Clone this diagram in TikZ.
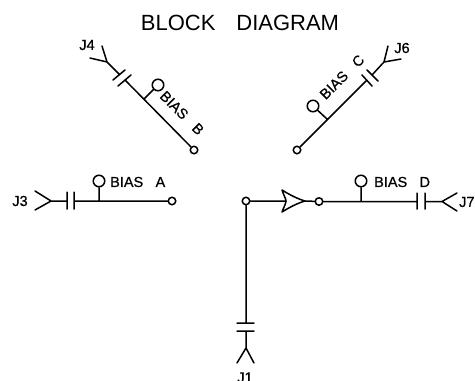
\documentclass[tikz,border=0pt]{standalone}
\usepackage{fontspec}
\setmainfont{Liberation Sans}
\newfontfamily\labfont[FakeBold=0.6]{Liberation Sans}
\tikzset{
  wire/.style={line width=1.5pt,line cap=round,line join=round,black},
  term/.style={circle,draw,line width=1.5pt,inner sep=0pt,minimum size=7.5pt,fill=white},
  bias/.style={circle,draw,line width=1.5pt,inner sep=0pt,minimum size=11.5pt,fill=white},
  lab/.style={inner sep=0pt,font=\labfont\fontsize{14.5}{16}\selectfont},
  jlab/.style={inner sep=0pt,font=\labfont\fontsize{14.5}{16}\selectfont},
  title/.style={inner sep=0pt,font=\fontsize{22}{24}\selectfont}
}
\begin{document}
\begin{tikzpicture}[x=1pt,y=-1pt]
\useasboundingbox (0,0) rectangle (475,381);
\fill[white] (0,0) rectangle (475,381);
\node[title] (ttl) at (240,23) {BLOCK\hspace{0.95em}DIAGRAM};
% A
\coordinate (a0) at (51,201); \coordinate (a1) at (35,191); \coordinate (a2) at (35,210);
\coordinate (a3) at (67,201); \coordinate (a4) at (74,201); \coordinate (a5) at (99,201);
\coordinate (ap1) at (67,192); \coordinate (ap2) at (67,209); \coordinate (ap3) at (74,192); \coordinate (ap4) at (74,209);
\node[term] (ta) at (172,201) {};
\node[bias] (ba) at (99,181) {};
\node[lab,anchor=west] (la) at (110,182) {BIAS\hspace{0.85em}A};
\node[jlab] (j3) at (20,201) {J3};
\draw[wire] (a1)--(a0)--(a2) (a0)--(a3) (ap1)--(ap2) (ap3)--(ap4) (a4)--(ta) (a5)--(ba);
% B
\coordinate (b0) at (107,62); \coordinate (b1) at (102,46); \coordinate (b2) at (90,58);
\coordinate (b3) at (119,74); \coordinate (b4) at (125,80); \coordinate (b5) at (144,99);
\coordinate (bp1) at (113,80); \coordinate (bp2) at (125,70); \coordinate (bp3) at (118,86); \coordinate (bp4) at (131,75);
\node[term] (tb) at (194,150) {};
\node[bias] (bb) at (158,85) {};
\node[lab,rotate=-45] (lb) at (182,113) {BIAS\hspace{0.85em}B};
\node[jlab] (j4) at (87,45) {J4};
\draw[wire] (b1)--(b0)--(b2) (b0)--(b3) (bp1)--(bp2) (bp3)--(bp4) (b4)--(tb) (b5)--(bb);
% C
\coordinate (c0) at (384,62); \coordinate (c1) at (388,46); \coordinate (c2) at (401,59);
\coordinate (c3) at (372,75); \coordinate (c4) at (366,81); \coordinate (c5) at (327,119);
\coordinate (cp1) at (362,75); \coordinate (cp2) at (372,86); \coordinate (cp3) at (367,70); \coordinate (cp4) at (378,81);
\node[term] (tc) at (297,150) {};
\node[bias] (bc) at (313,106) {};
\node[lab,rotate=45] (lc) at (342,77) {BIAS\hspace{0.85em}C};
\node[jlab] (j6) at (402,48) {J6};
\draw[wire] (c1)--(c0)--(c2) (c0)--(c3) (cp1)--(cp2) (cp3)--(cp4) (c4)--(tc) (c5)--(bc);
% D
\node[term] (t1) at (246,201) {};
\node[term] (td) at (319,201.5) {};
\node[bias] (bd) at (361,181) {};
\coordinate (amp) at (286,201); \coordinate (tip) at (305,201);
\coordinate (at) at (282,190); \coordinate (ab) at (282,212);
\coordinate (d5) at (361,201.5); \coordinate (d3) at (417,201.5); \coordinate (d4) at (425,201.5);
\coordinate (dp1) at (417,193); \coordinate (dp2) at (417,209); \coordinate (dp3) at (425,193); \coordinate (dp4) at (425,209);
\coordinate (d0) at (442,201.5); \coordinate (d1) at (457,193); \coordinate (d2) at (457,211);
\node[lab,anchor=west] (ld) at (374,182) {BIAS\hspace{0.85em}D};
\node[jlab,anchor=west] (j7) at (459,202) {J7};
\draw[wire] (t1)--(amp) (tip)--(td) (td)--(d3) (dp1)--(dp2) (dp3)--(dp4) (d4)--(d0) (d1)--(d0)--(d2) (d5)--(bd);
\draw[wire] (at) .. controls (284,196) and (286,199) .. (amp) .. controls (286,203) and (284,207) .. (ab)
  .. controls (290,207) and (298,203) .. (tip) .. controls (298,199) and (290,195) .. (at);
% J1
\coordinate (e3) at (246,323); \coordinate (e4) at (246,331); \coordinate (e0) at (246,348);
\coordinate (e1) at (237,363); \coordinate (e2) at (254,363);
\coordinate (ep1) at (237,323); \coordinate (ep2) at (254,323); \coordinate (ep3) at (237,331); \coordinate (ep4) at (254,331);
\node[jlab] (j1) at (245,377.5) {J1};
\draw[wire] (t1)--(e3) (ep1)--(ep2) (ep3)--(ep4) (e4)--(e0) (e1)--(e0)--(e2);
\end{tikzpicture}
\end{document}
